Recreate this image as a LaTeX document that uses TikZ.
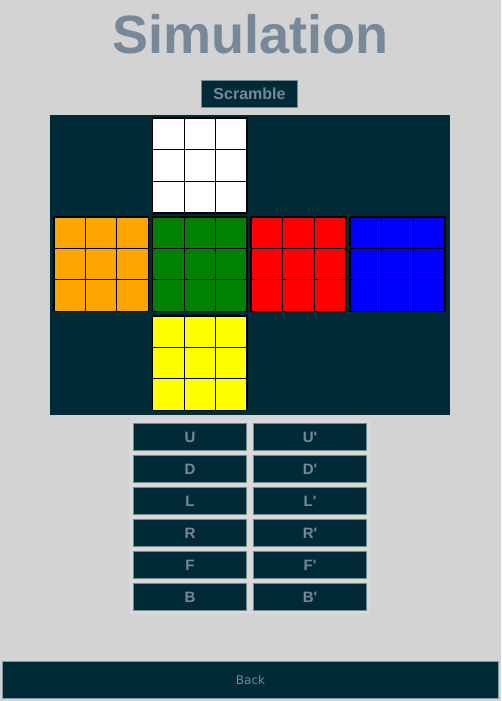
\documentclass[tikz,border=0pt]{standalone}
\usepackage{fontspec}
\setmainfont{Liberation Sans}
\newfontfamily\backfont{DejaVu Sans}
\usetikzlibrary{positioning}
\definecolor{page}{RGB}{211,211,211}
\definecolor{pagelight}{RGB}{217,217,217}
\definecolor{panel}{RGB}{0,43,54}
\definecolor{slate}{RGB}{119,136,153}
\definecolor{edge}{RGB}{110,140,145}
\definecolor{cubegreen}{RGB}{0,128,0}
\definecolor{cubeorange}{RGB}{255,165,0}
\definecolor{cubeyellow}{RGB}{255,255,0}
\definecolor{cubered}{RGB}{255,0,0}
\definecolor{cubeblue}{RGB}{0,0,255}
\definecolor{cubewhite}{RGB}{255,255,255}
\tikzset{button/.style={rectangle,fill=panel,draw=edge,line width=0.8pt,text=slate,font=\bfseries\fontsize{15}{15}\selectfont,inner sep=0pt},
		face/.style={rectangle,draw=black,line width=1.2pt,minimum size=94pt,inner sep=0pt},
		cell/.style={rectangle,draw=black,line width=0.9pt,minimum size=31.33pt,inner sep=0pt}}

\begin{document}
\begin{tikzpicture}[x=1pt,y=-1pt,node distance=3.7pt and 5.7pt,
		move/.style={button,minimum width=113.5pt,minimum height=27.5pt}]
	\fill[page] (0,0) rectangle (501,701);
	\useasboundingbox (0,0) rectangle (501,701);
	\node[anchor=base,text=slate,font=\bfseries\fontsize{54}{54}\selectfont,inner sep=0pt] (title) at (250.5,53) {Simulation};
	\node[button,minimum width=96pt,minimum height=26.5pt,font=\bfseries\fontsize{16}{16}\selectfont] (scramble) at (249.5,93.8) {Scramble};
	
	\node[rectangle,fill=panel,minimum width=400pt,minimum height=300pt,inner sep=0pt] (net) at (250,265) {};
	\foreach \side/\col/\row/\colour in {U/1/0/cubewhite,L/0/1/cubeorange,F/1/1/cubegreen,R/2/1/cubered,B/3/1/cubeblue,D/1/2/cubeyellow} {
		\node[face,fill=\colour] (face-\side) at (101+98.8*\col,165.5+98.75*\row) {};
		\foreach \i in {0,1,2}
			\foreach \j in {0,1,2}
				\node[cell,fill=\colour] (\side-\i-\j) at (101+98.8*\col+31.33*\i-31.33,165.5+98.75*\row+31.33*\j-31.33) {};
		\draw[black,line width=1.2pt] (face-\side.north west) rectangle (face-\side.south east);
	}
	
	\fill[pagelight] (130,420) rectangle (370,614);
	\node[move] (move-U) at (190,437) {U};
	\node[move] (move-U') [right=of move-U] {U\textquotesingle};
	\node[move] (move-D) [below=of move-U] {D};
	\node[move] (move-D') [right=of move-D] {D\textquotesingle};
	\node[move] (move-L) [below=of move-D] {L};
	\node[move] (move-L') [right=of move-L] {L\textquotesingle};
	\node[move] (move-R) [below=of move-L] {R};
	\node[move] (move-R') [right=of move-R] {R\textquotesingle};
	\node[move] (move-F) [below=of move-R] {F};
	\node[move] (move-F') [right=of move-F] {F\textquotesingle};
	\node[move] (move-B) [below=of move-F] {B};
	\node[move] (move-B') [right=of move-B] {B\textquotesingle};
	
	\node[button,minimum width=496.5pt,minimum height=37.5pt,draw=edge!80!page,font=\backfont\fontsize{12}{12}\selectfont] (back) at (250.5,680) {Back};
\end{tikzpicture}
\end{document}
